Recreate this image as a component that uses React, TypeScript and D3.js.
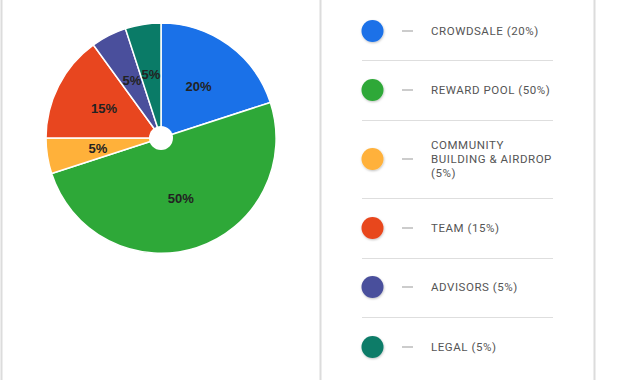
import React from "react";
import * as d3 from "d3";

const categories = ["CROWDSALE", "REWARD POOL", "COMMUNITY BUILDING & AIRDROP", "TEAM", "ADVISORS", "LEGAL"];
const values = [20, 50, 5, 15, 5, 5];
const colors = ["#1a71e8", "#2ea838", "#ffb13a", "#e8461f", "#4a4f9c", "#0a7b67"];
const legendLines = [
  ["CROWDSALE (20%)"],
  ["REWARD POOL (50%)"],
  ["COMMUNITY", "BUILDING & AIRDROP", "(5%)"],
  ["TEAM (15%)"],
  ["ADVISORS (5%)"],
  ["LEGAL (5%)"],
];
const legendRowY = [31, 90, 159, 228, 287, 347];
const separatorY = [60.5, 120.5, 198.5, 258.5, 317.5];

export default function App() {
  const W = 640, H = 380;
  const cx = 161, cy = 138, R = 115;
  const data = categories.map((c, i) => ({ c, v: values[i], color: colors[i] }));
  const pie = d3.pie<any>().value((d) => d.v).sort(null);
  const arcs = pie(data);
  const arc = d3.arc<any>().innerRadius(0).outerRadius(R);
  const labelArc = d3.arc<any>().innerRadius(64).outerRadius(64);
  const total = d3.sum(values);

  return (
    <svg width={W} height={H} style={{ position: "absolute", left: 0, top: 0 }}>
      <defs>
        <filter id="sh" x="-50%" y="-50%" width="200%" height="200%">
          <feDropShadow dx="0.5" dy="1" stdDeviation="1" floodColor="#000" floodOpacity="0.25" />
        </filter>
      </defs>
      <rect width={W} height={H} fill="#fff" />
      <line x1={1.5} x2={1.5} y1={0} y2={H} stroke="#dcdcdc" strokeWidth={2} />
      <line x1={320.5} x2={320.5} y1={0} y2={H} stroke="#dcdcdc" strokeWidth={2} />
      <line x1={594.5} x2={594.5} y1={0} y2={H} stroke="#dcdcdc" strokeWidth={2} />
      <g transform={`translate(${cx},${cy})`}>
        {arcs.map((a, i) => (
          <path key={i} d={arc(a) as string} fill={a.data.color} stroke="#fff" strokeWidth={1.5} />
        ))}
        <circle r={12} fill="#fff" />
        {arcs.map((a, i) => {
          const [x, y] = labelArc.centroid(a);
          return (
            <text key={"t" + i} x={x} y={y} textAnchor="middle" dominantBaseline="central"
              fontFamily="'Liberation Sans', Arial, sans-serif" fontWeight="bold" fontSize={13} fill="#222">
              {Math.round((a.data.v / total) * 100)}%
            </text>
          );
        })}
      </g>
      {separatorY.map((y, i) => (
        <line key={"s" + i} x1={362} x2={553} y1={y} y2={y} stroke="#dedede" strokeWidth={1} />
      ))}
      {legendLines.map((lines, i) => {
        const y = legendRowY[i];
        const lh = 13.8;
        const y0 = y - ((lines.length - 1) * lh) / 2;
        return (
          <g key={"l" + i}>
            <circle cx={372.5} cy={y} r={11} fill={colors[i]} filter="url(#sh)" />
            <line x1={402} x2={413} y1={y} y2={y} stroke="#999" strokeWidth={1} />
            {lines.map((t, j) => (
              <text key={j} x={431} y={y0 + j * lh} dominantBaseline="central"
                fontFamily="Roboto, sans-serif" fontSize={11.5} letterSpacing={0.55} fill="#555">
                {t}
              </text>
            ))}
          </g>
        );
      })}
    </svg>
  );
}
